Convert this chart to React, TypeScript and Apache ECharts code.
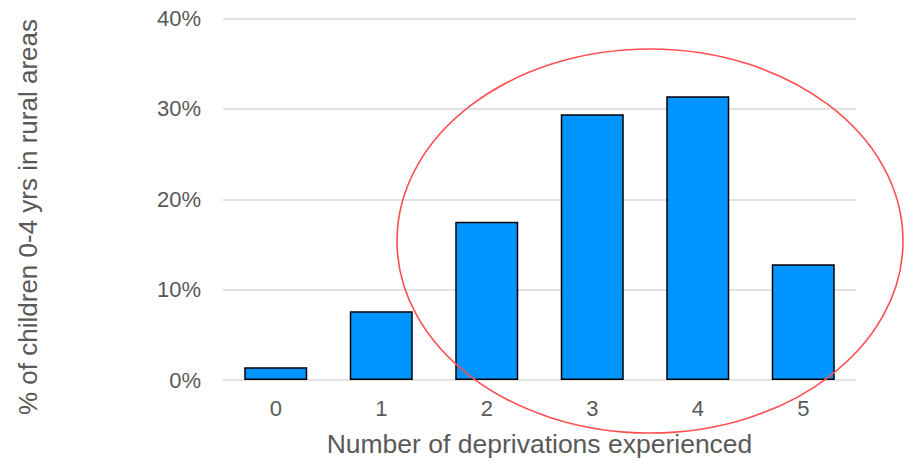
import React, { useEffect, useRef } from "react";
import * as echarts from "echarts";

// Share of rural children aged 0-4 by number of deprivations
const categories = ["0", "1", "2", "3", "4", "5"];
const shares = [1.4, 7.6, 17.5, 29.4, 31.4, 12.8];
const yTicks = [0, 10, 20, 30, 40];

const FONT = "'Liberation Sans', Arial, sans-serif";
const TEXT = "#595959";

export default function App() {
  const ref = useRef<HTMLDivElement>(null);

  useEffect(() => {
    if (!ref.current) return;
    const chart = echarts.init(ref.current, null, { renderer: "svg" });
    chart.setOption({
      animation: false,
      backgroundColor: "#ffffff",
      grid: {
        left: 223,
        right: 51,
        top: 18.5,
        bottom: 82,
        containLabel: false,
        outerBoundsMode: "none",
      },
      xAxis: {
        type: "category",
        data: categories,
        axisLine: { show: false },
        axisTick: { show: false },
        axisLabel: { color: TEXT, fontFamily: FONT, fontSize: 22, margin: 17 },
        name: "Number of deprivations experienced",
        nameLocation: "middle",
        nameGap: 50,
        nameTextStyle: { color: TEXT, fontFamily: FONT, fontSize: 26.5 },
      },
      yAxis: {
        type: "value",
        min: yTicks[0],
        max: yTicks[yTicks.length - 1],
        interval: 10,
        axisLine: { show: false },
        axisTick: { show: false },
        axisLabel: {
          color: TEXT,
          fontFamily: FONT,
          fontSize: 22,
          margin: 22,
          formatter: (v: number) => `${v}%`,
        },
        splitLine: { lineStyle: { color: "#d9d9d9", width: 1.5 } },
      },
      series: [
        {
          type: "bar",
          data: shares,
          barWidth: 63,
          itemStyle: { color: "#0094fe", borderColor: "#000000", borderWidth: 1.5 },
        },
      ],
      graphic: [
        {
          type: "text",
          x: 28,
          y: 217,
          rotation: Math.PI / 2,
          style: {
            text: "% of children 0-4 yrs in rural areas",
            fill: TEXT,
            font: `26px ${FONT}`,
            align: "center",
            verticalAlign: "middle",
          },
        },
        {
          type: "ellipse",
          z: 100,
          shape: { cx: 650, cy: 241, rx: 253, ry: 192 },
          style: { fill: "none", stroke: "#ff4f4f", lineWidth: 1.6 },
        },
      ],
    });
    return () => chart.dispose();
  }, []);

  return (
    <div
      ref={ref}
      style={{ position: "fixed", left: 0, top: 0, width: 907, height: 462 }}
    />
  );
}
